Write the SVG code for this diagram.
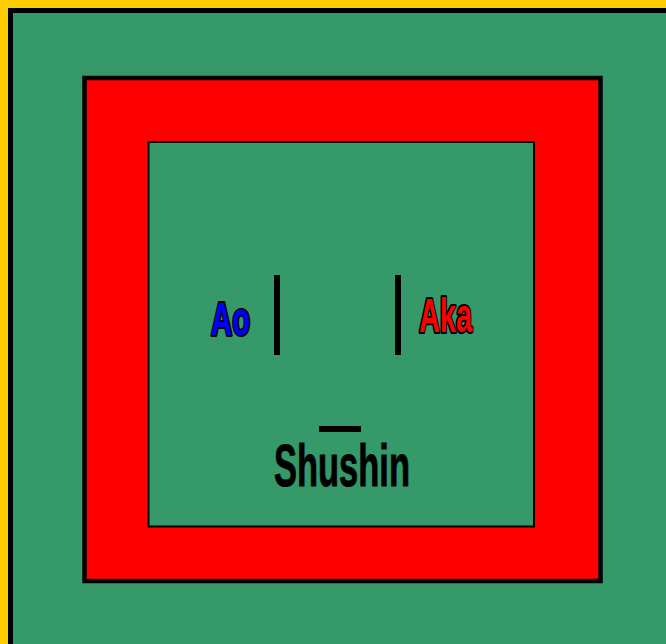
<svg xmlns="http://www.w3.org/2000/svg" width="666" height="644" viewBox="0 0 666 644">
<style>
.lbl{font-family:"Liberation Sans",Arial,sans-serif;font-weight:bold;paint-order:stroke;stroke:#000;stroke-linejoin:round}
.mark{fill:#000}
</style>
<g id="frame">
<rect x="0" y="0" width="666" height="644" fill="#ffcc00"/>
<rect x="8" y="8" width="700" height="700" fill="#000"/>
<rect x="13" y="13" width="700" height="700" fill="#36996a"/>
</g>
<g id="mat">
<rect x="84.5" y="78" width="516" height="503" fill="#ff0000" stroke="#000" stroke-width="4.5"/>
<rect x="148.5" y="142" width="385.5" height="384.5" fill="#36996a" stroke="#000" stroke-width="2"/>
</g>
<g id="marks">
<rect class="mark" x="274" y="275" width="6" height="80"/>
<rect class="mark" x="395" y="275" width="6" height="80"/>
<rect class="mark" x="319" y="426" width="42" height="6"/>
</g>
<g id="ao">
<text class="lbl" x="211" y="335" font-size="46" fill="#0000ff" stroke-width="4" textLength="39" lengthAdjust="spacingAndGlyphs">Ao</text>
</g>
<g id="aka">
<text class="lbl" x="419" y="332" font-size="48" fill="#ff0000" stroke-width="4" textLength="53" lengthAdjust="spacingAndGlyphs">Aka</text>
</g>
<g id="shushin">
<text class="lbl" x="274" y="486" font-size="60" fill="#000" stroke-width="1" textLength="136" lengthAdjust="spacingAndGlyphs">Shushin</text>
</g>
</svg>
